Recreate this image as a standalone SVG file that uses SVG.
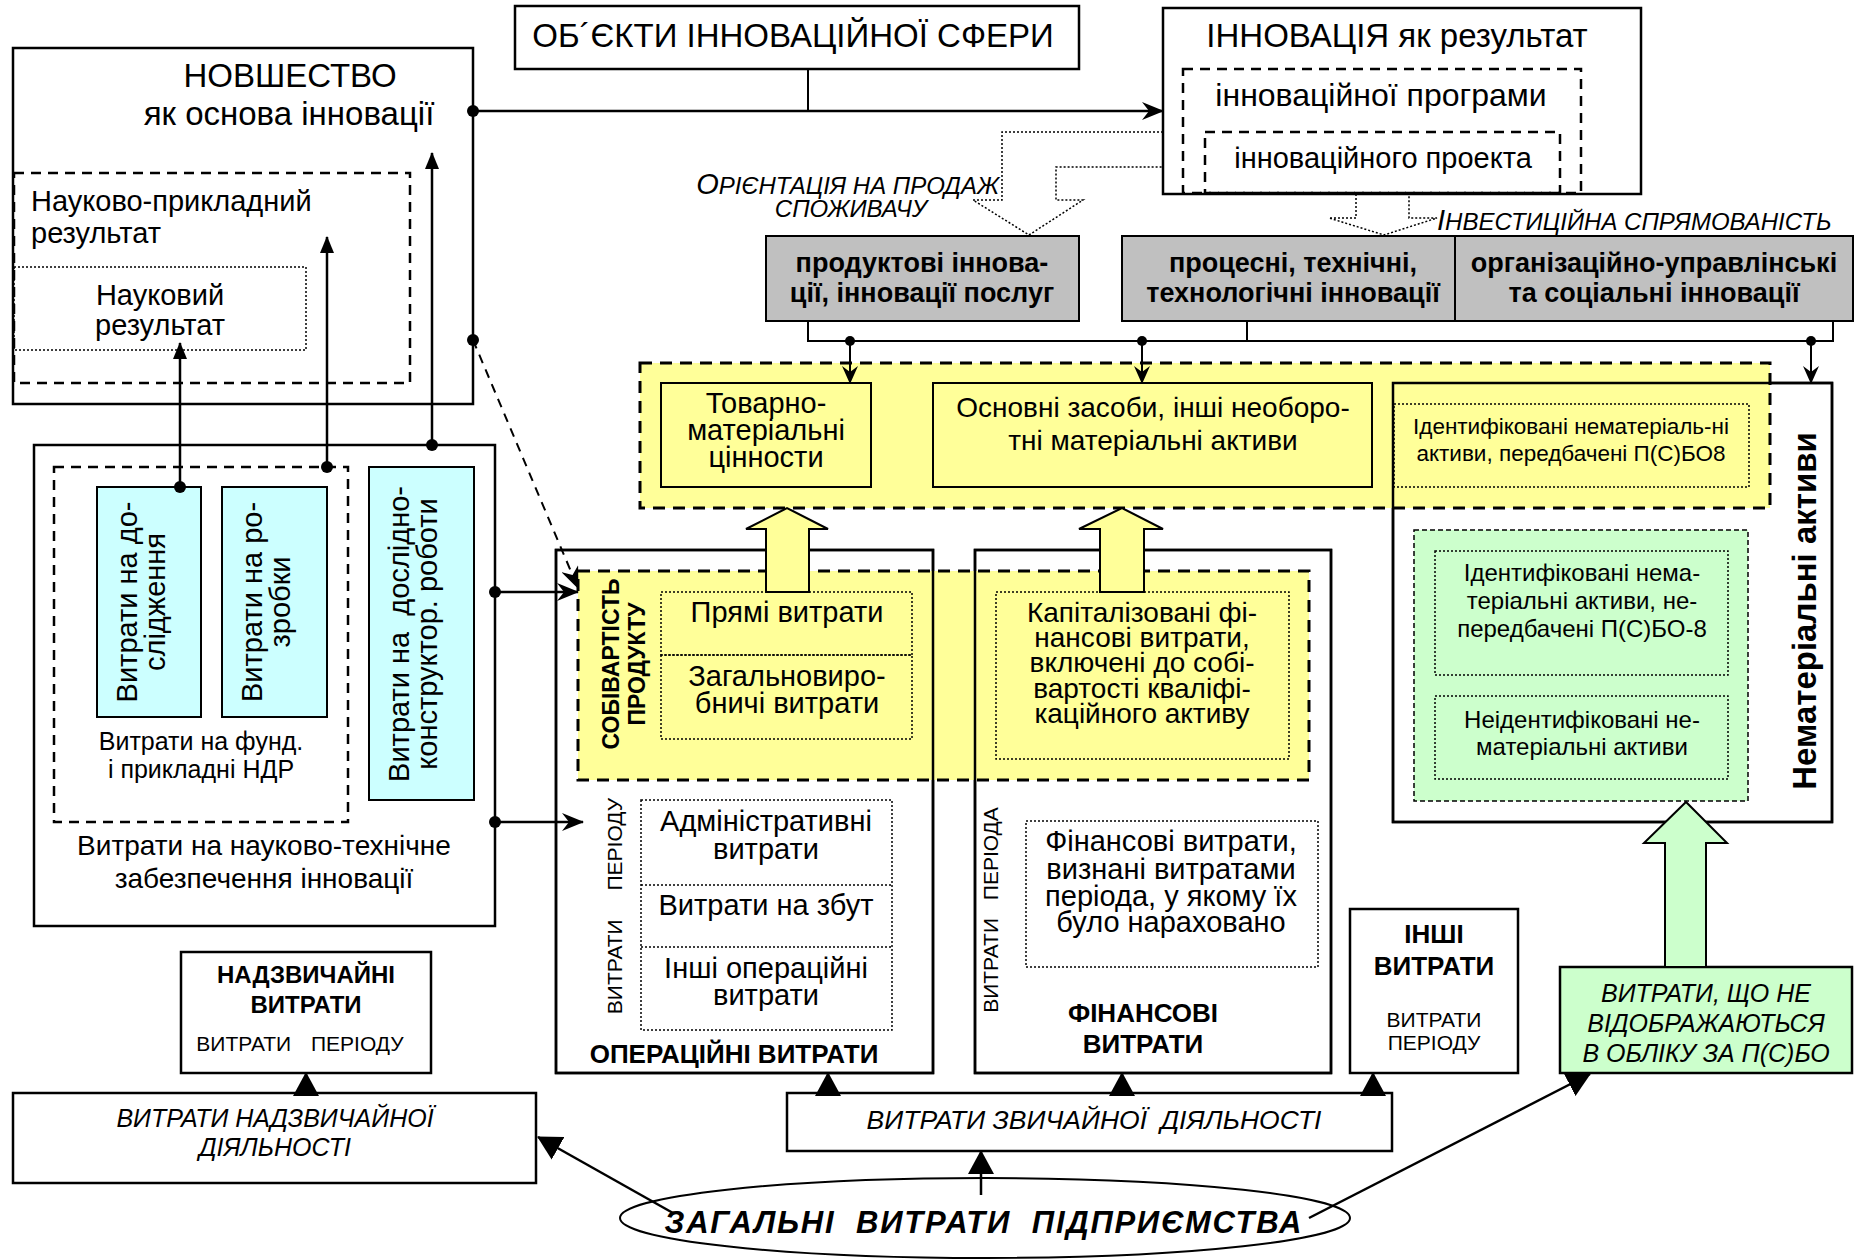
<svg xmlns="http://www.w3.org/2000/svg" width="1856" height="1259" viewBox="0 0 1856 1259">
<defs>
  <!-- concave arrowheads for connector lines -->
  <marker id="stealth" viewBox="0 0 22 18" refX="21" refY="9" markerWidth="22" markerHeight="18" markerUnits="userSpaceOnUse" orient="auto">
    <path d="M0,0 L22,9 L0,18 L7,9 z" fill="#000"/>
  </marker>
  <marker id="stealthS" viewBox="0 0 18 16" refX="17" refY="8" markerWidth="18" markerHeight="16" markerUnits="userSpaceOnUse" orient="auto">
    <path d="M0,0 L18,8 L0,16 L6,8 z" fill="#000"/>
  </marker>
  <!-- solid triangles -->
  <marker id="tri" viewBox="0 0 17 14" refX="16" refY="7" markerWidth="17" markerHeight="14" markerUnits="userSpaceOnUse" orient="auto">
    <path d="M0,0 L17,7 L0,14 z" fill="#000"/>
  </marker>
  <marker id="triL" viewBox="0 0 24 26" refX="23" refY="13" markerWidth="24" markerHeight="26" markerUnits="userSpaceOnUse" orient="auto">
    <path d="M0,0 L24,13 L0,26 z" fill="#000"/>
  </marker>
</defs>
<style>
  text { font-family: "Liberation Sans", Arial, sans-serif; fill: #000; }
  .c { text-anchor: middle; }
  .e { text-anchor: end; }
  .b { font-weight: bold; }
  .i { font-style: italic; }
  .box { fill: #fff; stroke: #000; stroke-width: 2.5; }
  .edge { fill: none; stroke: #000; stroke-width: 2.5; }
  .dash { fill: none; stroke: #000; stroke-width: 2.5; stroke-dasharray: 10 7; }
  .dot { fill: none; stroke: #000; stroke-width: 1.5; stroke-dasharray: 2 2; }
  .ybox { fill: #FFFF99; stroke: #000; stroke-width: 2; }
  .band { fill: #FFFF99; stroke: #000; stroke-width: 3; stroke-dasharray: 12 8; }
  .cyan { fill: #CCFFFF; stroke: #000; stroke-width: 2; }
  .gray { fill: #C0C0C0; stroke: #000; stroke-width: 2; }
  .green { fill: #CCFFCC; stroke: #000; stroke-width: 1.5; stroke-dasharray: 5 3; }
  .gbox { fill: #CCFFCC; stroke: #000; stroke-width: 2.5; }
  .ln { fill: none; stroke: #000; stroke-width: 2.5; }
  .ln2 { fill: none; stroke: #000; stroke-width: 2; }
  .hollowY { fill: #FFFF99; stroke: #000; stroke-width: 2; }
  .hollowG { fill: #CCFFCC; stroke: #000; stroke-width: 2; }
  .hollowD { fill: none; stroke: #000; stroke-width: 1.5; stroke-dasharray: 2 2; }
  .pt { fill: #000; }
</style>

<rect width="1856" height="1259" fill="#fff"/>

<!-- ===== top row ===== -->
<g id="novelty">
  <rect class="box" x="13" y="48" width="460" height="356"/>
  <text class="c" x="290" y="87" font-size="33">НОВШЕСТВО</text>
  <text class="c" x="289" y="125" font-size="33">як основа інновації</text>
  <rect class="dash" x="14" y="173" width="396" height="210"/>
  <text x="31" y="211" font-size="29">Науково-прикладний</text>
  <text x="31" y="243" font-size="29">результат</text>
  <rect class="dot" x="14" y="267" width="292" height="83"/>
  <text class="c" x="160" y="305" font-size="29">Науковий</text>
  <text class="c" x="160" y="335" font-size="29">результат</text>
</g>

<g id="objects">
  <rect class="box" x="515" y="6" width="564" height="63"/>
  <text class="c" x="793" y="47" font-size="33">ОБ´ЄКТИ ІННОВАЦІЙНОЇ СФЕРИ</text>
</g>

<g id="innovation">
  <rect class="box" x="1163" y="8" width="478" height="186"/>
  <text class="c" x="1397" y="47" font-size="33">ІННОВАЦІЯ як результат</text>
  <rect class="dash" x="1183" y="69" width="398" height="124"/>
  <text class="c" x="1381" y="106" font-size="32">інноваційної програми</text>
  <rect class="dash" x="1205" y="132" width="355" height="61"/>
  <text class="c" x="1383" y="168" font-size="29">інноваційного проекта</text>
</g>

<g id="labels-direction">
  <text class="e i" x="999" y="194" font-size="24"><tspan font-size="29">О</tspan>РІЄНТАЦІЯ НА ПРОДАЖ</text>
  <text class="c i" x="851" y="217" font-size="24">СПОЖИВАЧУ</text>
  <text class="i" x="1437" y="230" font-size="24"><tspan font-size="29">І</tspan>НВЕСТИЦІЙНА СПРЯМОВАНІСТЬ</text>
</g>

<g id="product-innov">
  <rect class="gray" x="766" y="236" width="313" height="85"/>
  <text class="c b" x="922" y="272" font-size="27">продуктові іннова-</text>
  <text class="c b" x="922" y="302" font-size="27">ції, інновації послуг</text>
</g>
<g id="process-innov">
  <rect class="gray" x="1122" y="236" width="333" height="85"/>
  <text class="c b" x="1293" y="272" font-size="27">процесні, технічні,</text>
  <text class="c b" x="1293" y="302" font-size="27">технологічні інновації</text>
</g>
<g id="org-innov">
  <rect class="gray" x="1455" y="236" width="398" height="85"/>
  <text class="c b" x="1654" y="272" font-size="27">організаційно-управлінські</text>
  <text class="c b" x="1654" y="302" font-size="27">та соціальні інновації</text>
</g>

<!-- ===== box backgrounds under the dashed bands ===== -->
<rect class="box" x="1393" y="383" width="439" height="439" stroke="none"/>
<rect class="box" x="556" y="550" width="377" height="523" stroke="none"/>
<rect class="box" x="975" y="550" width="356" height="523" stroke="none"/>

<!-- ===== assets ===== -->
<g id="assets-band">
  <rect class="band" x="640" y="363" width="1130" height="145"/>
</g>
<g id="inventory">
  <rect class="ybox" x="661" y="383" width="210" height="104"/>
  <text class="c" x="766" y="413" font-size="29">Товарно-</text>
  <text class="c" x="766" y="440" font-size="29">матеріальні</text>
  <text class="c" x="766" y="467" font-size="29">цінности</text>
</g>
<g id="fixed-assets">
  <rect class="ybox" x="933" y="383" width="439" height="104"/>
  <text class="c" x="1153" y="417" font-size="28">Основні засоби, інші необоро-</text>
  <text class="c" x="1153" y="450" font-size="28">тні матеріальні активи</text>
</g>
<g id="intangible">
  <rect class="edge" x="1393" y="383" width="439" height="439" stroke-width="2.5"/>
  <rect class="dot" x="1394" y="404" width="355" height="83"/>
  <text class="c" x="1571" y="434" font-size="22.5">Ідентифіковані нематеріаль-ні</text>
  <text class="c" x="1571" y="461" font-size="22.5">активи, передбачені П(С)БО8</text>
  <rect class="green" x="1414" y="530" width="334" height="271"/>
  <rect class="dot" x="1435" y="551" width="293" height="124"/>
  <text class="c" x="1582" y="581" font-size="24">Ідентифіковані нема-</text>
  <text class="c" x="1582" y="609" font-size="24">теріальні активи, не-</text>
  <text class="c" x="1582" y="637" font-size="24">передбачені П(С)БО-8</text>
  <rect class="dot" x="1435" y="696" width="293" height="83"/>
  <text class="c" x="1582" y="728" font-size="24">Неідентифіковані не-</text>
  <text class="c" x="1582" y="755" font-size="24">матеріальні активи</text>
  <text class="c b" transform="translate(1816,611) rotate(-90)" font-size="33">Нематеріальні активи</text>
</g>

<!-- ===== costs ===== -->
<g id="cost-band">
  <rect class="band" x="578" y="571" width="731" height="209"/>
</g>
<g id="operating">
  <rect class="edge" x="556" y="550" width="377" height="523"/>
  <text class="c b" transform="translate(619,664) rotate(-90)" font-size="23">СОБІВАРТІСТЬ</text>
  <text class="c b" transform="translate(645,664) rotate(-90)" font-size="23">ПРОДУКТУ</text>
  <rect class="dot" x="661" y="592" width="251" height="63"/>
  <text class="c" x="787" y="622" font-size="29">Прямі витрати</text>
  <rect class="dot" x="661" y="655" width="251" height="84"/>
  <text class="c" x="787" y="686" font-size="29">Загальновиро-</text>
  <text class="c" x="787" y="713" font-size="29">бничі витрати</text>
  <text class="c" transform="translate(622,906) rotate(-90)" font-size="21">ВИТРАТИ <tspan dx="23">ПЕРІОДУ</tspan></text>
  <rect class="dot" x="641" y="800" width="251" height="230"/>
  <line class="dot" x1="641" y1="885" x2="892" y2="885"/>
  <line class="dot" x1="641" y1="947" x2="892" y2="947"/>
  <text class="c" x="766" y="831" font-size="29">Адміністративні</text>
  <text class="c" x="766" y="859" font-size="29">витрати</text>
  <text class="c" x="766" y="915" font-size="29">Витрати на збут</text>
  <text class="c" x="766" y="978" font-size="29">Інші операційні</text>
  <text class="c" x="766" y="1005" font-size="29">витрати</text>
  <text class="c b" x="734" y="1063" font-size="26">ОПЕРАЦІЙНІ ВИТРАТИ</text>
</g>
<g id="financial">
  <rect class="edge" x="975" y="550" width="356" height="523"/>
  <rect class="dot" x="996" y="592" width="293" height="167"/>
  <text class="c" x="1142" y="622" font-size="28">Капіталізовані фі-</text>
  <text class="c" x="1142" y="647" font-size="28">нансові витрати,</text>
  <text class="c" x="1142" y="672" font-size="28">включені до собі-</text>
  <text class="c" x="1142" y="698" font-size="28">вартості кваліфі-</text>
  <text class="c" x="1142" y="723" font-size="28">каційного активу</text>
  <text class="c" transform="translate(998,910) rotate(-90)" font-size="21">ВИТРАТИ <tspan dx="12">ПЕРІОДА</tspan></text>
  <rect class="dot" x="1026" y="821" width="292" height="146"/>
  <text class="c" x="1171" y="851" font-size="29">Фінансові витрати,</text>
  <text class="c" x="1171" y="879" font-size="29">визнані витратами</text>
  <text class="c" x="1171" y="906" font-size="29">періода, у якому їх</text>
  <text class="c" x="1171" y="932" font-size="29">було нараховано</text>
  <text class="c b" x="1143" y="1022" font-size="26">ФІНАНСОВІ</text>
  <text class="c b" x="1143" y="1053" font-size="26">ВИТРАТИ</text>
</g>
<g id="other-costs">
  <rect class="box" x="1350" y="909" width="168" height="164"/>
  <text class="c b" x="1434" y="943" font-size="26">ІНШІ</text>
  <text class="c b" x="1434" y="975" font-size="26">ВИТРАТИ</text>
  <text class="c" x="1434" y="1027" font-size="21">ВИТРАТИ</text>
  <text class="c" x="1434" y="1050" font-size="21">ПЕРІОДУ</text>
</g>
<g id="unrecorded">
  <rect class="gbox" x="1560" y="967" width="292" height="106"/>
  <text class="c i" x="1706" y="1002" font-size="25">ВИТРАТИ, ЩО НЕ</text>
  <text class="c i" x="1706" y="1032" font-size="25">ВІДОБРАЖАЮТЬСЯ</text>
  <text class="c i" x="1706" y="1062" font-size="25">В ОБЛІКУ ЗА П(С)БО</text>
</g>
<g id="extraordinary-costs">
  <rect class="box" x="181" y="952" width="250" height="121"/>
  <text class="c b" x="306" y="983" font-size="24">НАДЗВИЧАЙНІ</text>
  <text class="c b" x="306" y="1013" font-size="24">ВИТРАТИ</text>
  <text class="c" x="300" y="1051" font-size="21">ВИТРАТИ <tspan dx="14">ПЕРІОДУ</tspan></text>
</g>
<g id="extraordinary-activity">
  <rect class="box" x="13" y="1093" width="523" height="90"/>
  <text class="c i" x="275" y="1127" font-size="25">ВИТРАТИ НАДЗВИЧАЙНОЇ</text>
  <text class="c i" x="275" y="1156" font-size="25">ДІЯЛЬНОСТІ</text>
</g>
<g id="ordinary-activity">
  <rect class="box" x="787" y="1093" width="605" height="58"/>
  <text class="c i" x="1094" y="1129" font-size="26.5">ВИТРАТИ ЗВИЧАЙНОЇ <tspan dx="6">ДІЯЛЬНОСТІ</tspan></text>
</g>
<g id="total-costs">
  <ellipse cx="985" cy="1218" rx="365" ry="40" fill="#fff" stroke="#000" stroke-width="2"/>
  <text class="c b i" x="983" y="1233" font-size="31" textLength="637" lengthAdjust="spacing" xml:space="preserve">ЗАГАЛЬНІ  ВИТРАТИ  ПІДПРИЄМСТВА</text>
</g>

<!-- ===== R&D costs ===== -->
<g id="rnd-costs">
  <rect class="box" x="34" y="445" width="461" height="481"/>
  <rect class="dash" x="54" y="467" width="294" height="355"/>
  <rect class="cyan" x="97" y="487" width="104" height="230"/>
  <text class="c" transform="translate(137,602) rotate(-90)" font-size="29">Витрати на до-</text>
  <text class="c" transform="translate(165,602) rotate(-90)" font-size="29">слідження</text>
  <rect class="cyan" x="222" y="487" width="105" height="230"/>
  <text class="c" transform="translate(262,602) rotate(-90)" font-size="29">Витрати на ро-</text>
  <text class="c" transform="translate(290,602) rotate(-90)" font-size="29">зробки</text>
  <text class="c" x="201" y="750" font-size="25">Витрати на фунд.</text>
  <text class="c" x="201" y="778" font-size="25">і прикладні НДР</text>
  <rect class="cyan" x="369" y="467" width="105" height="333"/>
  <text class="c" transform="translate(409,634) rotate(-90)" font-size="29" xml:space="preserve">Витрати на  дослідно-</text>
  <text class="c" transform="translate(437,634) rotate(-90)" font-size="29">конструктор. роботи</text>
  <text class="c" x="264" y="855" font-size="28">Витрати на науково-технічне</text>
  <text class="c" x="264" y="888" font-size="28">забезпечення інновації</text>
</g>

<!-- ===== connectors ===== -->
<g id="connectors">
  <!-- novelty to innovation -->
  <line class="ln" x1="473" y1="111" x2="1163" y2="111" marker-end="url(#stealth)"/>
  <line class="ln2" x1="808" y1="69" x2="808" y2="111"/>
  <circle class="pt" cx="473" cy="111" r="6"/>
  <!-- orientation / investment block arrows -->
  <path class="hollowD" d="M1163,132 H1002 V200 H973 L1029,235 L1083,200 H1056 V167 H1163"/>
  <path class="hollowD" d="M1356,194 V218 H1329 L1384,235 L1437,218 H1409 V194"/>
  <!-- innovation types to assets -->
  <path class="ln2" d="M808,321 V341 H1833 V321"/>
  <line class="ln2" x1="1247" y1="321" x2="1247" y2="341"/>
  <line class="ln2" x1="850" y1="341" x2="850" y2="383" marker-end="url(#stealthS)"/>
  <line class="ln2" x1="1142" y1="341" x2="1142" y2="383" marker-end="url(#stealthS)"/>
  <line class="ln2" x1="1811" y1="341" x2="1811" y2="383" marker-end="url(#stealthS)"/>
  <circle class="pt" cx="850" cy="341" r="5"/>
  <circle class="pt" cx="1142" cy="341" r="5"/>
  <circle class="pt" cx="1811" cy="341" r="5"/>
  <!-- capitalisation block arrows -->
  <path class="hollowY" d="M766,592 V529 H746 L787,508 L828,529 H809 V592 z"/>
  <path class="hollowY" d="M1100,592 V529 H1079 L1122,508 L1163,529 H1144 V592 z"/>
  <path class="hollowG" d="M1665,967 V843 H1644 L1686,802 L1727,843 H1706 V967 z"/>
  <!-- R&D results upward -->
  <line class="ln" x1="180" y1="487" x2="180" y2="343" marker-end="url(#tri)"/>
  <line class="ln" x1="327" y1="467" x2="327" y2="237" marker-end="url(#tri)"/>
  <line class="ln" x1="432" y1="445" x2="432" y2="153" marker-end="url(#tri)"/>
  <circle class="pt" cx="180" cy="487" r="6"/>
  <circle class="pt" cx="327" cy="467" r="6"/>
  <circle class="pt" cx="432" cy="445" r="6"/>
  <!-- R&D costs into operating costs -->
  <line class="ln" x1="495" y1="592" x2="578" y2="592" marker-end="url(#stealth)"/>
  <line class="ln" x1="495" y1="822" x2="583" y2="822" marker-end="url(#stealth)"/>
  <circle class="pt" cx="495" cy="592" r="6"/>
  <circle class="pt" cx="495" cy="822" r="6"/>
  <line class="ln2" x1="473" y1="340" x2="578" y2="588" stroke-dasharray="9 7" marker-end="url(#stealth)"/>
  <circle class="pt" cx="473" cy="340" r="6"/>
  <!-- activity boxes upward -->
  <line class="ln" x1="306" y1="1093" x2="306" y2="1073" marker-end="url(#triL)"/>
  <line class="ln" x1="828" y1="1093" x2="828" y2="1073" marker-end="url(#triL)"/>
  <line class="ln" x1="1122" y1="1093" x2="1122" y2="1073" marker-end="url(#triL)"/>
  <line class="ln" x1="1373" y1="1093" x2="1373" y2="1073" marker-end="url(#triL)"/>
  <!-- total costs split -->
  <line class="ln" x1="981" y1="1195" x2="981" y2="1151" marker-end="url(#triL)"/>
  <line class="ln" x1="673" y1="1213" x2="538" y2="1137" marker-end="url(#triL)"/>
  <line class="ln" x1="1309" y1="1218" x2="1590" y2="1074" marker-end="url(#triL)"/>
</g>
</svg>
